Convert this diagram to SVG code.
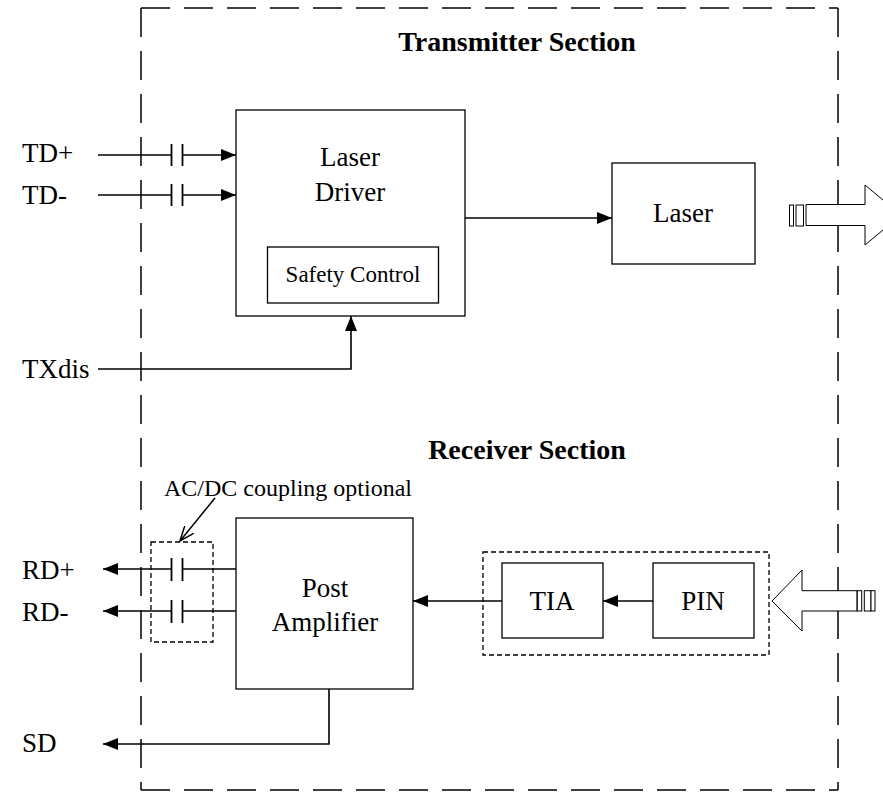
<svg xmlns="http://www.w3.org/2000/svg" width="883" height="793" viewBox="0 0 883 793">
<style>
text{font-family:"Liberation Serif","Times New Roman",serif;fill:#000}
.t{font-size:27px}
.s{font-size:23px}
.b{font-size:28px;font-weight:bold}
.box{fill:#fff;stroke:#000;stroke-width:1.3}
.ln{fill:none;stroke:#000;stroke-width:1.6}
.frame{fill:none;stroke:#000;stroke-width:1.5;stroke-dasharray:29 14}
.dsh{fill:none;stroke:#000;stroke-width:1.3;stroke-dasharray:5 3}
.plate{stroke:#000;stroke-width:1.8}
.big{fill:#fff;stroke:#000;stroke-width:1}
</style>
<defs>
<marker id="arr" viewBox="0 0 15 12" refX="15" refY="6" markerWidth="15" markerHeight="12" orient="auto" markerUnits="userSpaceOnUse">
<path d="M0,0 L15,6 L0,12 z" fill="#000"/>
</marker>
<marker id="open" viewBox="0 0 16 12" refX="15" refY="6" markerWidth="16" markerHeight="12" orient="auto" markerUnits="userSpaceOnUse">
<path d="M0,0 L15,6 L0,12" fill="none" stroke="#000" stroke-width="1.5"/>
</marker>
</defs>

<g id="frame">
<line class="frame" x1="141" y1="8" x2="838" y2="8"/>
<line class="frame" x1="141" y1="8" x2="141" y2="790"/>
<line class="frame" x1="838" y1="8" x2="838" y2="790"/>
<line class="frame" x1="141" y1="790" x2="838" y2="790"/>
</g>

<text class="b" x="517" y="51" text-anchor="middle">Transmitter Section</text>
<text class="b" x="527" y="459" text-anchor="middle">Receiver Section</text>

<g id="labels">
<text class="t" x="22" y="162">TD+</text>
<text class="t" x="22" y="204">TD-</text>
<text class="t" x="22" y="378">TXdis</text>
<text class="t" x="22" y="579">RD+</text>
<text class="t" x="22" y="621">RD-</text>
<text class="t" x="22" y="752">SD</text>
</g>

<g id="connectors">
<!-- TD+ -->
<line class="ln" x1="98" y1="155" x2="171.5" y2="155"/>
<line class="plate" x1="171.5" y1="144" x2="171.5" y2="166"/>
<line class="plate" x1="182.5" y1="144" x2="182.5" y2="166"/>
<line class="ln" x1="182.5" y1="155" x2="236" y2="155" marker-end="url(#arr)"/>
<!-- TD- -->
<line class="ln" x1="98" y1="195" x2="171.5" y2="195"/>
<line class="plate" x1="171.5" y1="184" x2="171.5" y2="206"/>
<line class="plate" x1="182.5" y1="184" x2="182.5" y2="206"/>
<line class="ln" x1="182.5" y1="195" x2="236" y2="195" marker-end="url(#arr)"/>
<!-- TXdis -->
<path class="ln" d="M98,369 H351 V316" marker-end="url(#arr)"/>
<!-- driver to laser -->
<line class="ln" x1="465" y1="218" x2="612" y2="218" marker-end="url(#arr)"/>
<!-- RD+ -->
<line class="ln" x1="236" y1="569" x2="182.5" y2="569"/>
<line class="plate" x1="182.5" y1="558" x2="182.5" y2="581"/>
<line class="plate" x1="171.5" y1="558" x2="171.5" y2="581"/>
<line class="ln" x1="171.5" y1="569" x2="103" y2="569" marker-end="url(#arr)"/>
<!-- RD- -->
<line class="ln" x1="236" y1="611" x2="182.5" y2="611"/>
<line class="plate" x1="182.5" y1="600" x2="182.5" y2="623"/>
<line class="plate" x1="171.5" y1="600" x2="171.5" y2="623"/>
<line class="ln" x1="171.5" y1="611" x2="103" y2="611" marker-end="url(#arr)"/>
<!-- SD -->
<path class="ln" d="M329,689 V744 H103" marker-end="url(#arr)"/>
<!-- TIA to post amp -->
<line class="ln" x1="502" y1="601" x2="413" y2="601" marker-end="url(#arr)"/>
<!-- PIN to TIA -->
<line class="ln" x1="653" y1="601" x2="603" y2="601" marker-end="url(#arr)"/>
<!-- AC/DC pointer -->
<line x1="215" y1="498" x2="180" y2="541" stroke="#000" stroke-width="1.5" marker-end="url(#open)"/>
</g>

<g id="acdc">
<rect class="dsh" x="151" y="542" width="62" height="100"/>
<text x="164" y="496" style="font-size:24px">AC/DC coupling optional</text>
</g>

<g id="laser-driver">
<rect class="box" x="236" y="110" width="229" height="206"/>
<text class="t" x="350" y="166" text-anchor="middle">Laser</text>
<text class="t" x="350" y="201" text-anchor="middle">Driver</text>
</g>
<g id="safety-control">
<rect class="box" x="267.5" y="247" width="171" height="56"/>
<text class="s" x="353" y="282" text-anchor="middle">Safety Control</text>
</g>
<g id="laser">
<rect class="box" x="612" y="163" width="143" height="101"/>
<text class="t" x="683" y="222" text-anchor="middle">Laser</text>
</g>
<g id="post-amp">
<rect class="box" x="236" y="518" width="177" height="171"/>
<text class="t" x="325" y="597" text-anchor="middle">Post</text>
<text class="t" x="325" y="631" text-anchor="middle">Amplifier</text>
</g>
<g id="receiver-module">
<rect class="dsh" x="483" y="552" width="286" height="103"/>
</g>
<g id="tia">
<rect class="box" x="502" y="563" width="101" height="75"/>
<text class="t" x="552" y="610" text-anchor="middle">TIA</text>
</g>
<g id="pin">
<rect class="box" x="653" y="563" width="101" height="75"/>
<text class="t" x="703" y="610" text-anchor="middle">PIN</text>
</g>

<g id="optical-out">
<polygon class="big" points="806,204.5 865,204.5 865,185 901,215 865,245 865,225.5 806,225.5"/>
<rect class="big" x="789.5" y="205" width="4" height="21"/>
<rect class="big" x="796" y="205" width="7.5" height="21"/>
</g>
<g id="optical-in">
<polygon class="big" points="857,590.7 802,590.7 802,570 772,601 802,631 802,611 857,611"/>
<rect class="big" x="857.3" y="590.7" width="4.4" height="20.3"/>
<rect class="big" x="864.3" y="590.7" width="6.7" height="20.3"/>
<rect class="big" x="871" y="590.7" width="4" height="20.3"/>
</g>
</svg>
